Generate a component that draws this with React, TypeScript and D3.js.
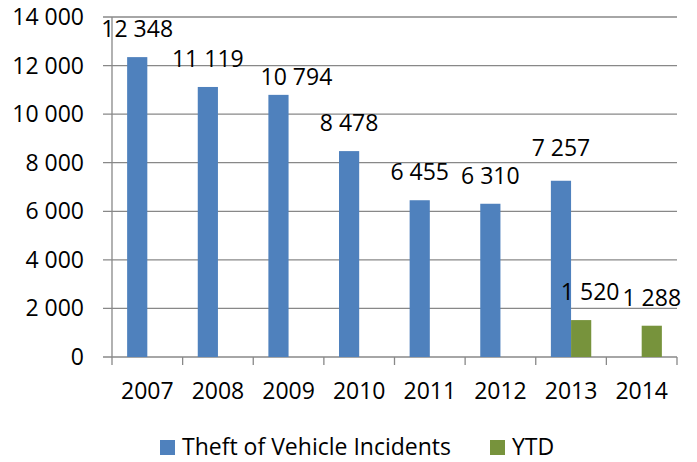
import React from "react";
import * as d3 from "d3";

const categories = ["2007", "2008", "2009", "2010", "2011", "2012", "2013", "2014"];
const theftValues: (number | null)[] = [12348, 11119, 10794, 8478, 6455, 6310, 7257, null];
const ytdValues: (number | null)[] = [null, null, null, null, null, null, 1520, 1288];
const yTicks = [0, 2000, 4000, 6000, 8000, 10000, 12000, 14000];
const seriesNames = ["Theft of Vehicle Incidents", "YTD"];
const colors = ["#4F81BD", "#77933C"];

// manual label nudges (layout only), keyed "series-index"
const labelNudge: Record<string, [number, number]> = {
  "0-2": [18, 10],
  "0-6": [0, -5],
  "1-6": [9, 0],
};

const W = 697, H = 462;
const left = 112, right = 677, top = 17, bottom = 357;
const FONT = "'Open Sans', sans-serif";
const FS = 23;

const fmt = (v: number) => d3.format(",")(v).replace(/,/g, " ");

export default function App() {
  const x = d3.scaleBand<string>().domain(categories).range([left, right]);
  const y = d3.scaleLinear().domain([0, 14000]).range([bottom, top]);
  const bw = x.bandwidth() / 3.5;
  const series = [theftValues, ytdValues];
  const gridColor = "#888888";

  return (
    <svg width={W} height={H} style={{ position: "absolute", left: 0, top: 0 }} fontFamily={FONT}>
      <rect width={W} height={H} fill="#fff" />
      {yTicks.map((t) => (
        <g key={t}>
          <line x1={left - 9} x2={right} y1={y(t)} y2={y(t)} stroke={gridColor} strokeWidth={1.3} />
          <text x={left - 28} y={y(t)} dy="0.35em" textAnchor="end" fontSize={FS} fill="#000">
            {fmt(t)}
          </text>
        </g>
      ))}
      <line x1={left} x2={left} y1={top} y2={bottom} stroke={gridColor} strokeWidth={1.3} />
      {categories.map((c) => (
        <line key={c} x1={x(c)!} x2={x(c)!} y1={bottom} y2={bottom + 8} stroke={gridColor} strokeWidth={1.3} />
      ))}
      <line x1={right} x2={right} y1={bottom} y2={bottom + 8} stroke={gridColor} strokeWidth={1.3} />
      {series.map((vals, si) =>
        vals.map((v, i) => {
          if (v == null) return null;
          const cx = x(categories[i])! + x.bandwidth() / 2;
          const bx = si === 0 ? cx - bw : cx;
          const [ndx, ndy] = labelNudge[`${si}-${i}`] || [0, 0];
          return (
            <g key={`${si}-${i}`}>
              <rect x={bx} y={y(v)} width={bw} height={bottom - y(v)} fill={colors[si]} />
              <text x={bx + bw / 2 + ndx} y={y(v) - 20 + ndy} textAnchor="middle" fontSize={FS} fill="#000">
                {fmt(v)}
              </text>
            </g>
          );
        })
      )}
      {categories.map((c) => (
        <text key={c} x={x(c)! + x.bandwidth() / 2} y={399} textAnchor="middle" fontSize={FS} fill="#000">
          {c}
        </text>
      ))}
      <rect x={160} y={440} width={15} height={15} fill={colors[0]} />
      <text x={182} y={455} fontSize={FS} fill="#000">{seriesNames[0]}</text>
      <rect x={490} y={440} width={15} height={15} fill={colors[1]} />
      <text x={512} y={455} fontSize={FS} fill="#000">{seriesNames[1]}</text>
    </svg>
  );
}
